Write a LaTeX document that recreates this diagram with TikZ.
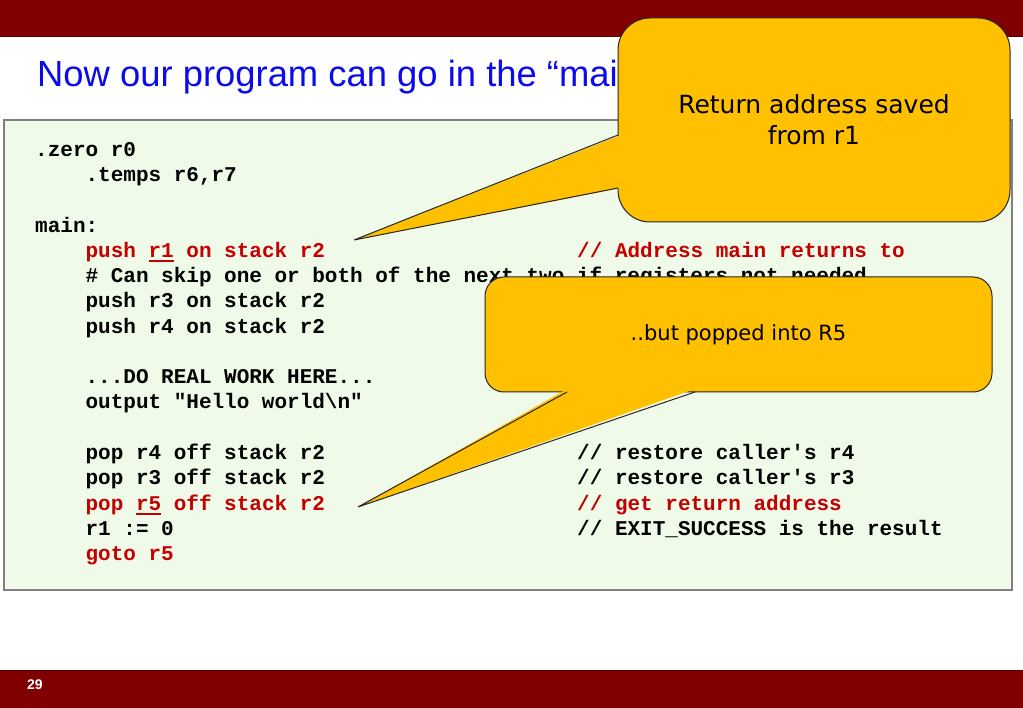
\documentclass[tikz,border=0pt]{standalone}
\usepackage{fontspec}
\setmainfont{Liberation Sans}
\setmonofont{Liberation Mono}
\newfontfamily\calloutfont{DejaVu Sans}
\definecolor{hdr}{RGB}{128,0,0}
\definecolor{hdredge}{RGB}{90,0,0}
\definecolor{codebg}{RGB}{240,250,232}
\definecolor{codeedge}{RGB}{128,128,128}
\definecolor{codered}{RGB}{196,0,0}
\definecolor{gold}{RGB}{255,192,0}
\definecolor{titleblue}{RGB}{10,10,235}
\newcommand\myul[1]{\setbox0\hbox{#1}\rlap{\rule[-5pt]{\wd0}{2pt}}\box0\relax}
\tikzset{
  code/.style={anchor=base west, inner sep=0pt, font=\fontsize{21}{25}\selectfont\ttfamily\bfseries, text=black},
  codeR/.style={code, text=codered},
  callbox/.style={draw=black!85, line width=1pt, fill=gold, align=center, inner sep=0pt},
  cline/.style={draw=black!85, line width=1pt, line join=miter},
}
\begin{document}
\begin{tikzpicture}[x=1pt,y=-1pt]
\useasboundingbox (0,0) rectangle (1023,708);
% bands
\fill[hdr] (0,0) rectangle (1023,37);
\draw[hdredge, line width=1pt] (0,36.5) -- (1023,36.5);
\fill[hdr] (0,670) rectangle (1023,708);
\draw[hdredge, line width=1pt] (0,670.5) -- (1023,670.5);
\node[anchor=base west, inner sep=0pt, text=white, font=\fontsize{14}{16}\selectfont\bfseries] (pg) at (27,689) {29};
% title
\node[anchor=base west, inner sep=0pt, text=titleblue, font=\fontsize{36.4}{40}\selectfont] (title) at (37,87) {Now our program can go in the “mai};
% code box
\draw[codeedge, fill=codebg, line width=2pt] (4,120) rectangle (1012,590);
% code lines
\node[code] (l0) at (35,156.5) {.zero r0};
\node[code] (l1) at (85.4,181.75) {.temps r6,r7};
\node[code] (l3) at (35,232.25) {main:};
\node[codeR] (l4) at (85.4,257.5) {push \myul{r1} on stack r2};
\node[codeR] (c4) at (577,257.5) {// Address main returns to};
\node[code] (l5) at (85.4,282.75) {\# Can skip one or both of the next two if registers not needed};
\node[code] (l6) at (85.4,308) {push r3 on stack r2};
\node[code] (l7) at (85.4,333.25) {push r4 on stack r2};
\node[code] (l9) at (85.4,383.75) {...DO REAL WORK HERE...};
\node[code] (l10) at (85.4,409) {output "Hello world\textbackslash n"};
\node[code] (l12) at (85.4,459.5) {pop r4 off stack r2};
\node[code] (c12) at (577,459.5) {// restore caller's r4};
\node[code] (l13) at (85.4,484.75) {pop r3 off stack r2};
\node[code] (c13) at (577,484.75) {// restore caller's r3};
\node[codeR] (l14) at (85.4,510) {pop \myul{r5} off stack r2};
\node[codeR] (c14) at (577,510) {// get return address};
\node[code] (l15) at (85.4,535.25) {r1 := 0};
\node[code] (c15) at (577,535.25) {// EXIT\_SUCCESS is the result};
\node[codeR] (l16) at (85.4,560.5) {goto r5};
% callout 2
\node[callbox, minimum width=507pt, minimum height=115pt, rounded corners=19pt,
      font=\calloutfont\fontsize{21}{25}\selectfont] (co2) at (738.5,334.5) {..but popped into R5};
\coordinate (t2) at (358,507);
\coordinate (a2) at (567,392);
\coordinate (b2) at (695,392);
\fill[gold] (t2) -- ([yshift=3pt]a2) -- ([yshift=3pt]b2) -- cycle;
\draw[cline] (a2) -- (t2) -- (b2);
% callout 1
\node[callbox, minimum width=392pt, minimum height=204pt, rounded corners=32pt,
      font=\calloutfont\fontsize{25}{31}\selectfont] (co1) at (814,120) {Return address saved\\from r1};
\coordinate (t1) at (354,240);
\coordinate (a1) at (618,135);
\coordinate (b1) at (618,188);
\fill[gold] (t1) -- ([xshift=3pt]a1) -- ([xshift=3pt]b1) -- cycle;
\draw[cline] (a1) -- (t1) -- (b1);
\end{tikzpicture}
\end{document}
